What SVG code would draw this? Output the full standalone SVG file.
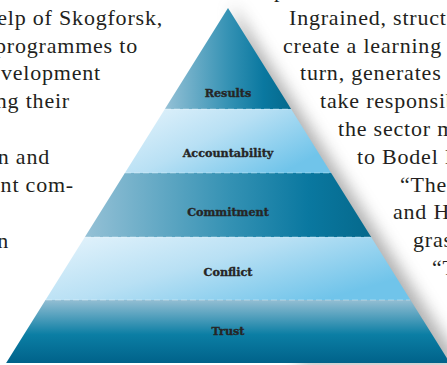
<svg xmlns="http://www.w3.org/2000/svg" width="447" height="365" viewBox="0 0 447 365">
  <defs>
    <style>
      .body { font-family: "Liberation Serif", "Times New Roman", serif; font-size: 22px; letter-spacing: 0.8px; fill: #231f20; }
      .left { text-anchor: end; }
      .label { font-family: "DejaVu Serif", "Liberation Serif", serif; font-weight: bold; font-size: 11.2px; fill: #262626; stroke: #262626; stroke-width: 0.35px; text-anchor: middle; }
      .seam { stroke: #ffffff; stroke-opacity: 0.35; stroke-width: 1; stroke-dasharray: 6 3; }
    </style>
    <linearGradient id="darkBand" x1="0" y1="0" x2="1" y2="0">
      <stop offset="0" stop-color="#95c1d6"/>
      <stop offset="0.5" stop-color="#3592b4"/>
      <stop offset="0.78" stop-color="#0a78a0"/>
      <stop offset="1" stop-color="#05698c"/>
    </linearGradient>
    <linearGradient id="lightBand" x1="0" y1="0" x2="1" y2="0.6">
      <stop offset="0" stop-color="#e6f4fc"/>
      <stop offset="0.5" stop-color="#b8e0f4"/>
      <stop offset="1" stop-color="#70c4ea"/>
    </linearGradient>
    <linearGradient id="baseBand" x1="0" y1="0" x2="0" y2="1">
      <stop offset="0" stop-color="#93bed3"/>
      <stop offset="0.55" stop-color="#0b7ea4"/>
      <stop offset="1" stop-color="#00628a"/>
    </linearGradient>
    <filter id="softShadow" x="-20%" y="-20%" width="140%" height="140%">
      <feGaussianBlur stdDeviation="8"/>
    </filter>
  </defs>

  <rect width="447" height="365" fill="#ffffff"/>

  <!-- running text on the left -->
  <g id="text-left" class="body left">
    <text x="163" y="25">help of Skogforsk,</text>
    <text x="138" y="53">programmes to</text>
    <text x="101" y="80">development</text>
    <text x="70" y="108">ing their</text>
    <text x="50" y="164">n and</text>
    <text x="74" y="192">nt com-</text>
    <text x="9" y="248">n</text>
  </g>

  <!-- running text on the right -->
  <g id="text-right" class="body">
    <text x="274" y="-3">p</text>
    <text x="289" y="25">Ingrained, struct</text>
    <text x="283" y="53">create a learning c</text>
    <text x="300" y="80">turn, generates</text>
    <text x="320" y="108">take responsibil</text>
    <text x="338" y="136">the sector m</text>
    <text x="357" y="164">to Bodel I</text>
    <text x="400" y="192">“The</text>
    <text x="393" y="219">and H</text>
    <text x="413" y="247">gras</text>
    <text x="432" y="275">“T</text>
  </g>

  <!-- shadow cast along the right flank -->
  <polygon points="232,4 462,365 300,365" fill="#6f6f6f" opacity="0.55" filter="url(#softShadow)"/>

  <!-- pyramid layers, top to bottom -->
  <g id="layer-results">
    <polygon points="228,8 291.1,109 164.9,109" fill="url(#darkBand)"/>
    <text class="label" x="228" y="97">Results</text>
  </g>
  <g id="layer-accountability">
    <polygon points="164.9,109 291.1,109 331.1,173 124.9,173" fill="url(#lightBand)"/>
    <text class="label" x="228" y="157">Accountability</text>
  </g>
  <g id="layer-commitment">
    <polygon points="124.9,173 331.1,173 371.1,237 84.9,237" fill="url(#darkBand)"/>
    <text class="label" x="228" y="216">Commitment</text>
  </g>
  <g id="layer-conflict">
    <polygon points="84.9,237 371.1,237 410.5,300 45.5,300" fill="url(#lightBand)"/>
    <text class="label" x="228" y="276">Conflict</text>
  </g>
  <g id="layer-trust">
    <polygon points="45.5,300 410.5,300 449.9,363 6.1,363" fill="url(#baseBand)"/>
    <text class="label" x="228" y="335">Trust</text>
  </g>

  <!-- faint seams between layers -->
  <g id="seams" class="seam">
    <line x1="165" y1="109" x2="291" y2="109"/>
    <line x1="125" y1="173" x2="331" y2="173"/>
    <line x1="85" y1="237" x2="371" y2="237"/>
    <line x1="46" y1="300" x2="410" y2="300"/>
  </g>
</svg>
